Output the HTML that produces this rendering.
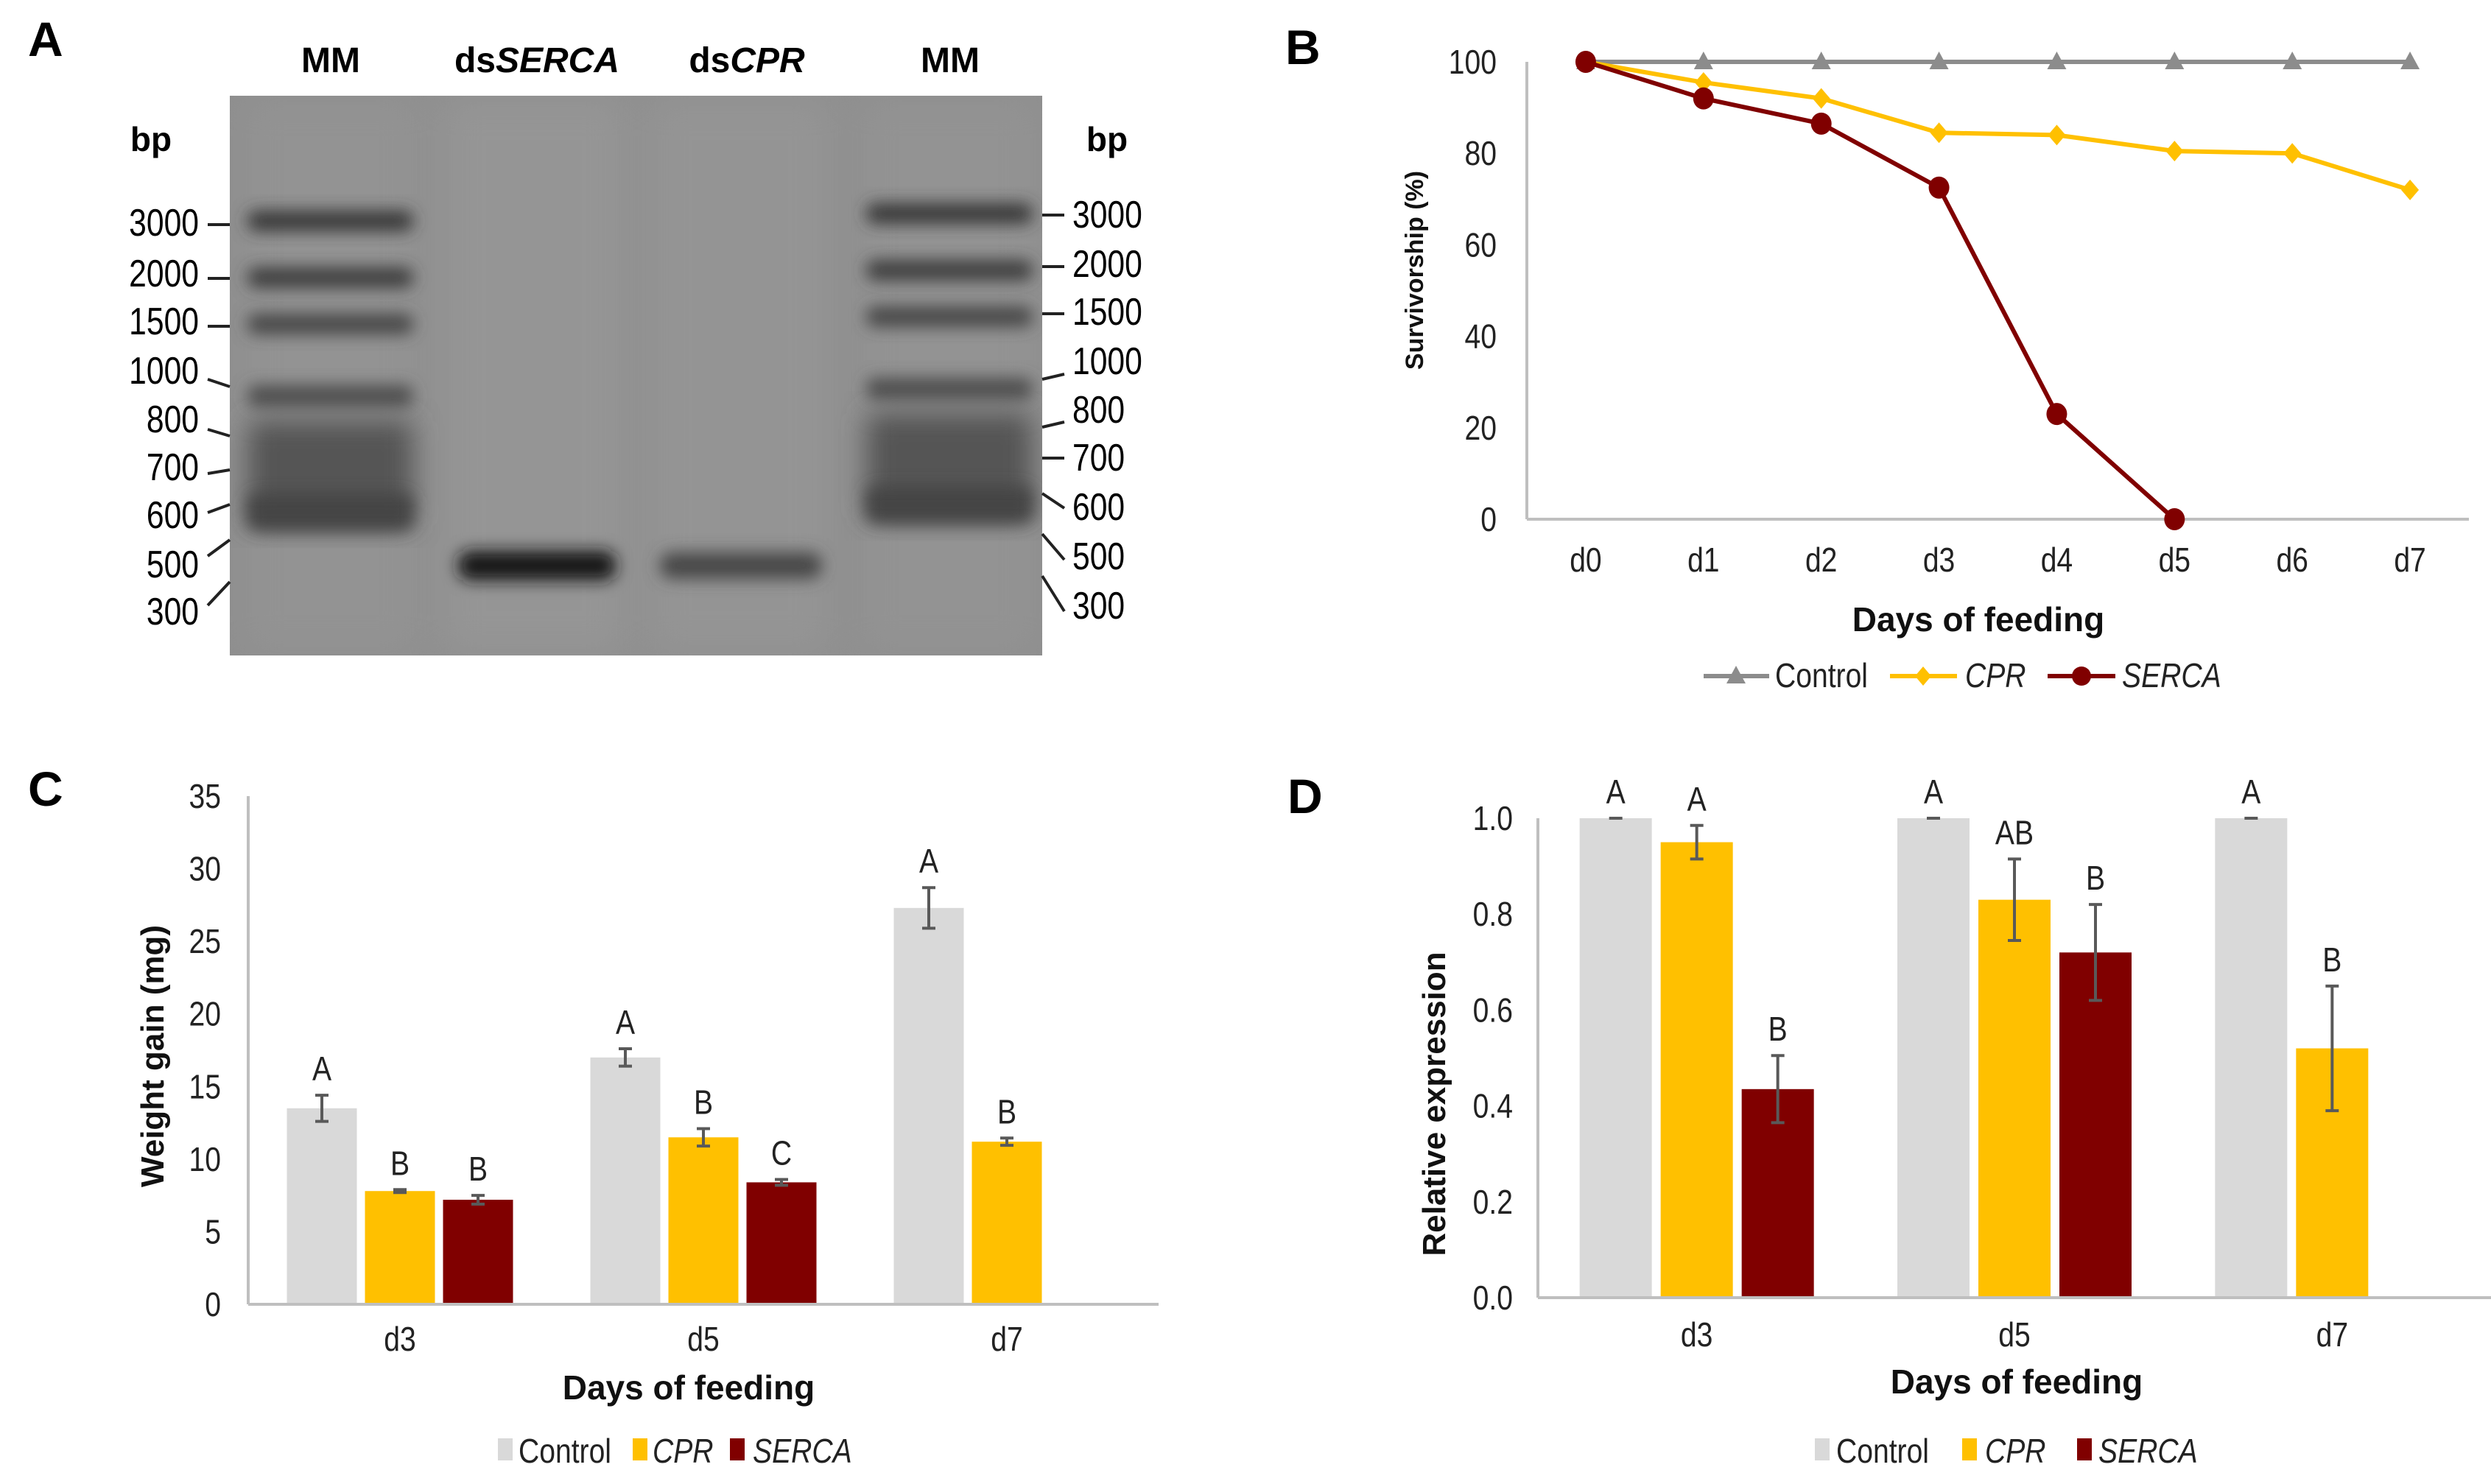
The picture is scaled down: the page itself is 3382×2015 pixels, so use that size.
<!DOCTYPE html>
<html><head><meta charset="utf-8"><style>
html,body{margin:0;padding:0;background:#fff}
svg{display:block}
text{font-family:"Liberation Sans",sans-serif}
</style></head><body>
<svg id="fig" width="3382" height="2015" viewBox="0 0 3382 2015" xmlns="http://www.w3.org/2000/svg">
<defs>
<filter id="blur" x="-20%" y="-80%" width="140%" height="260%"><feGaussianBlur stdDeviation="11"/></filter>
<filter id="blur2" x="-20%" y="-20%" width="140%" height="140%"><feGaussianBlur stdDeviation="18"/></filter>
<filter id="blur3" x="-20%" y="-5%" width="140%" height="110%"><feGaussianBlur stdDeviation="25"/></filter>
<clipPath id="gelclip"><rect x="312" y="130" width="1103" height="760"/></clipPath>
</defs>

<!-- PANEL A -->
<g>
<text x="38" y="76" font-size="66" font-weight="bold">A</text>
<g font-size="48" font-weight="bold" text-anchor="middle">
<text x="449" y="98">MM</text>
<text x="729" y="98">ds<tspan font-style="italic">SERCA</tspan></text>
<text x="1014" y="98">ds<tspan font-style="italic">CPR</tspan></text>
<text x="1290" y="98">MM</text>
</g>
<text x="205" y="205" font-size="46" font-weight="bold" text-anchor="middle">bp</text>
<text x="1503" y="205" font-size="46" font-weight="bold" text-anchor="middle">bp</text>
<g clip-path="url(#gelclip)">
<rect x="312" y="130" width="1103" height="760" fill="#8e8e8e"/>
<rect x="330" y="130" width="240" height="760" fill="#939393" filter="url(#blur3)"/>
<rect x="600" y="130" width="250" height="760" fill="#959595" filter="url(#blur3)"/>
<rect x="880" y="130" width="250" height="760" fill="#949494" filter="url(#blur3)"/>
<rect x="1165" y="130" width="245" height="760" fill="#939393" filter="url(#blur3)"/>
<!-- left ladder -->
<rect x="336" y="286" width="225" height="28" rx="12" fill="#383838" filter="url(#blur)"/>
<rect x="336" y="363" width="225" height="28" rx="12" fill="#3e3e3e" filter="url(#blur)"/>
<rect x="336" y="426" width="225" height="28" rx="12" fill="#474747" filter="url(#blur)"/>
<rect x="336" y="523" width="225" height="30" rx="12" fill="#4d4d4d" filter="url(#blur)"/>
<rect x="336" y="570" width="225" height="145" rx="12" fill="#545454" filter="url(#blur2)"/>
<rect x="336" y="670" width="225" height="50" rx="12" fill="#444" filter="url(#blur)"/>
<!-- right ladder -->
<rect x="1176" y="276" width="226" height="28" rx="12" fill="#383838" filter="url(#blur)"/>
<rect x="1176" y="353" width="226" height="28" rx="12" fill="#3e3e3e" filter="url(#blur)"/>
<rect x="1176" y="416" width="226" height="28" rx="12" fill="#474747" filter="url(#blur)"/>
<rect x="1176" y="513" width="226" height="30" rx="12" fill="#4d4d4d" filter="url(#blur)"/>
<rect x="1176" y="560" width="226" height="145" rx="12" fill="#545454" filter="url(#blur2)"/>
<rect x="1176" y="660" width="226" height="50" rx="12" fill="#444" filter="url(#blur)"/>
<!-- sample bands -->
<rect x="622" y="748" width="214" height="40" rx="16" fill="#181818" filter="url(#blur)"/>
<rect x="896" y="750" width="220" height="36" rx="16" fill="#474747" filter="url(#blur)"/>
</g>
<g font-size="52" text-anchor="end" transform="translate(270,0) scale(0.82,1)">
<text x="0" y="320">3000</text>
<text x="0" y="389">2000</text>
<text x="0" y="454">1500</text>
<text x="0" y="521">1000</text>
<text x="0" y="587">800</text>
<text x="0" y="652">700</text>
<text x="0" y="717">600</text>
<text x="0" y="784">500</text>
<text x="0" y="848">300</text>
</g>
<g stroke="#222" stroke-width="4">
<line x1="282" y1="305" x2="312" y2="305"/><line x1="282" y1="378" x2="312" y2="378"/><line x1="282" y1="443" x2="312" y2="443"/>
<line x1="282" y1="515" x2="312" y2="525"/><line x1="282" y1="583" x2="312" y2="592"/><line x1="282" y1="643" x2="312" y2="638"/>
<line x1="282" y1="696" x2="312" y2="685"/><line x1="282" y1="755" x2="312" y2="733"/><line x1="282" y1="822" x2="312" y2="790"/>
</g>
<g font-size="52" transform="translate(1456,0) scale(0.82,1)">
<text x="0" y="309">3000</text>
<text x="0" y="376">2000</text>
<text x="0" y="441">1500</text>
<text x="0" y="508">1000</text>
<text x="0" y="574">800</text>
<text x="0" y="639">700</text>
<text x="0" y="706">600</text>
<text x="0" y="773">500</text>
<text x="0" y="840">300</text>
</g>
<g stroke="#222" stroke-width="4">
<line x1="1415" y1="292" x2="1445" y2="292"/><line x1="1415" y1="362" x2="1445" y2="362"/><line x1="1415" y1="426" x2="1445" y2="426"/>
<line x1="1415" y1="515" x2="1445" y2="508"/><line x1="1415" y1="580" x2="1445" y2="573"/><line x1="1415" y1="622" x2="1445" y2="622"/>
<line x1="1415" y1="670" x2="1445" y2="690"/><line x1="1415" y1="725" x2="1445" y2="760"/><line x1="1415" y1="782" x2="1445" y2="830"/>
</g>
</g>

<g id="panelB">
<text x="1745" y="87" font-size="66" font-weight="bold">B</text>
</g>
<g id="panelC">
<text x="38" y="1094" font-size="66" font-weight="bold">C</text>
</g>
<g id="panelD">
<text x="1748" y="1104" font-size="66" font-weight="bold">D</text>
</g>
</svg>
<script>
// ---- Panel B data ----
const bDays = ['d0','d1','d2','d3','d4','d5','d6','d7'];
const bControl = [100,100,100,100,100,100,100,100];
const bCPR = [100,95.5,92,84.5,84,80.5,80,72];
const bSERCA = [100,92,86.5,72.5,23,0];
const bTicks = [0,20,40,60,80,100];
// ---- Panel C data ----
const cDays = ['d3','d5','d7'];
const cControl = [13.5,17.0,27.3];
const cControlErr = [0.9,0.6,1.4];
const cCPR = [7.8,11.5,11.2];
const cCPRErr = [0.1,0.6,0.25];
const cSERCA = [7.2,8.4];
const cSERCAErr = [0.3,0.2];
const cControlLetters = ['A','A','A'];
const cCPRLetters = ['B','B','B'];
const cSERCALetters = ['B','C'];
const cTicks = [0,5,10,15,20,25,30,35];
// ---- Panel D data ----
const dDays = ['d3','d5','d7'];
const dControl = [1,1,1];
const dControlErr = [0,0,0];
const dCPR = [0.95,0.83,0.52];
const dCPRErr = [0.035,0.085,0.13];
const dSERCA = [0.435,0.72];
const dSERCAErr = [0.07,0.1];
const dControlLetters = ['A','A','A'];
const dCPRLetters = ['A','AB','B'];
const dSERCALetters = ['B','B'];
const dTicks = ['0.0','0.2','0.4','0.6','0.8','1.0'];

const NS='http://www.w3.org/2000/svg';
function mk(parent,tag,attrs,txt){const e=document.createElementNS(NS,tag);for(const k in attrs)e.setAttribute(k,attrs[k]);if(txt!==undefined)e.textContent=txt;parent.appendChild(e);return e;}
const GRAY='#8c8c8c', GOLD='#ffc000', RED='#800000', LGRAY='#d9d9d9', AXIS='#bfbfbf';
const TF=46, SX=0.85;
function tlabel(g,x,y,txt,anchor,extra){
 const e=mk(g,'text',Object.assign({x:0,y:0,'font-size':TF,'text-anchor':anchor,fill:'#222',transform:`translate(${x},${y}) scale(${SX},1)`},extra||{}),txt);
 return e;
}

// ===== Panel B =====
(function(){
const g=document.getElementById('panelB');
const x0=2073,x1=3352,yTop=84,yBot=705;
const step=(x1-x0)/8;
const X=i=>x0+step*(i+0.5);
const Y=v=>yBot-(v/100)*(yBot-yTop);
let e;
e=mk(g,'line',{x1:x0,y1:yTop,x2:x0,y2:yBot,stroke:AXIS,'stroke-width':4});

e=mk(g,'line',{x1:x0,y1:yBot,x2:x1,y2:yBot,stroke:AXIS,'stroke-width':4});

bTicks.forEach(t=>{e=tlabel(g,2032,Y(t)+16,String(t),'end');
});
bDays.forEach((d,i)=>{e=tlabel(g,X(i),776,d,'middle');
});
e=mk(g,'text',{x:2686,y:857,'font-size':46,'font-weight':'bold','text-anchor':'middle',fill:'#111'},'Days of feeding');

e=mk(g,'text',{x:0,y:0,'font-size':34,'font-weight':'bold','text-anchor':'middle',fill:'#111',transform:'translate(1932,367) rotate(-90)'},'Survivorship (%)');

function line(vals,col,name){const pts=vals.map((v,i)=>X(i)+','+Y(v)).join(' ');
 const l=mk(g,'polyline',{points:pts,fill:'none',stroke:col,'stroke-width':6});
 }
line(bControl,'#8c8c8c','b-control');line(bCPR,GOLD,'b-cpr');line(bSERCA,RED,'b-serca');
bControl.forEach((v,i)=>{const cx=X(i),cy=Y(v);e=mk(g,'polygon',{points:`${cx},${cy-14} ${cx-13},${cy+10} ${cx+13},${cy+10}`,fill:GRAY});
});
bCPR.forEach((v,i)=>{const cx=X(i),cy=Y(v);e=mk(g,'polygon',{points:`${cx},${cy-14} ${cx+12},${cy} ${cx},${cy+14} ${cx-12},${cy}`,fill:GOLD});
});
bSERCA.forEach((v,i)=>{e=mk(g,'ellipse',{cx:X(i),cy:Y(v),rx:14,ry:15,fill:RED});
});
const ly=918;
e=mk(g,'line',{x1:2313,y1:ly,x2:2402,y2:ly,stroke:GRAY,'stroke-width':6});
e=mk(g,'polygon',{points:`2357,${ly-14} 2344,${ly+10} 2370,${ly+10}`,fill:GRAY});
e=tlabel(g,2410,ly+15,'Control','start');
e=mk(g,'line',{x1:2566,y1:ly,x2:2657,y2:ly,stroke:GOLD,'stroke-width':6});
e=mk(g,'polygon',{points:`2611,${ly-13} 2622,${ly} 2611,${ly+13} 2600,${ly}`,fill:GOLD});
e=tlabel(g,2668,ly+15,'CPR','start',{'font-style':'italic'});
e=mk(g,'line',{x1:2780,y1:ly,x2:2872,y2:ly,stroke:RED,'stroke-width':6});
e=mk(g,'circle',{cx:2826,cy:ly,r:13,fill:RED});
e=tlabel(g,2881,ly+15,'SERCA','start',{'font-style':'italic'});
})();

// ===== Bar chart helper =====
function barChart(o){
const g=document.getElementById(o.id);
const {x0,x1,yTop,yBot,vmax,barW,gap,p}=o;
const step=(x1-x0)/o.cats.length;
const Y=v=>yBot-(v/vmax)*(yBot-yTop);
let e;
e=mk(g,'line',{x1:x0,y1:yTop,x2:x0,y2:yBot,stroke:AXIS,'stroke-width':4});

o.ticks.forEach(t=>{e=tlabel(g,o.tickX,Y(parseFloat(t))+16,String(t),'end');
});
const series=o.series;
o.cats.forEach((c,i)=>{
 const cx=x0+step*(i+0.5);
 const total=series.length*barW+(series.length-1)*gap;
 series.forEach((s,k)=>{
  if(i>=s.vals.length)return;
  const v=s.vals[i];const bx=cx-total/2+k*(barW+gap);
  e=mk(g,'rect',{x:bx,y:Y(v),width:barW,height:yBot-Y(v),fill:s.col});
  
  const er=s.err[i];const mx=bx+barW/2;
  e=mk(g,'path',{d:`M${mx},${Y(v+er)}V${Y(v-er)}M${mx-9},${Y(v+er)}H${mx+9}M${mx-9},${Y(v-er)}H${mx+9}`,stroke:'#595959','stroke-width':4,fill:'none'});
  
  e=tlabel(g,mx,Y(v+er)-20,s.letters[i],'middle');
  
 });
 e=tlabel(g,cx,o.catY,c,'middle');
 
});
e=mk(g,'line',{x1:x0,y1:yBot,x2:x1,y2:yBot,stroke:AXIS,'stroke-width':4});

e=mk(g,'text',{x:o.titleX,y:o.titleY,'font-size':46,'font-weight':'bold','text-anchor':'middle',fill:'#111'},'Days of feeding');

e=mk(g,'text',{x:0,y:0,'font-size':44,'font-weight':'bold','text-anchor':'middle',fill:'#111',transform:`translate(${o.ytX},${o.ytY}) rotate(-90)`},o.ytitle);

const ly=o.legY;
o.leg.forEach((L,k)=>{
 e=mk(g,'rect',{x:L[0],y:ly-18,width:20,height:30,fill:series[k].col});
 
 e=tlabel(g,L[1],ly+15,series[k].label,'start',k?{'font-style':'italic'}:{});
 
});
}
barChart({id:'panelC',p:'c',x0:337,x1:1573,yTop:1081,yBot:1771,vmax:35,barW:95,gap:11,cats:cDays,ticks:cTicks,tickX:300,catY:1834,
 titleX:935,titleY:1900,ytX:222,ytY:1434,ytitle:'Weight gain (mg)',legY:1971,
 series:[{name:'control',label:'Control',col:LGRAY,vals:cControl,err:cControlErr,letters:cControlLetters},
  {name:'cpr',label:'CPR',col:GOLD,vals:cCPR,err:cCPRErr,letters:cCPRLetters},
  {name:'serca',label:'SERCA',col:RED,vals:cSERCA,err:cSERCAErr,letters:cSERCALetters}],
 leg:[[676,704],[859,886],[991,1022]]});
barChart({id:'panelD',p:'d',x0:2088,x1:3382,yTop:1111,yBot:1762,vmax:1,barW:98,gap:12,cats:dDays,ticks:dTicks,tickX:2054,catY:1828,
 titleX:2738,titleY:1892,ytX:1962,ytY:1499,ytitle:'Relative expression',legY:1971,
 series:[{name:'control',label:'Control',col:LGRAY,vals:dControl,err:dControlErr,letters:dControlLetters},
  {name:'cpr',label:'CPR',col:GOLD,vals:dCPR,err:dCPRErr,letters:dCPRLetters},
  {name:'serca',label:'SERCA',col:RED,vals:dSERCA,err:dSERCAErr,letters:dSERCALetters}],
 leg:[[2464,2493],[2664,2695],[2820,2849]]});
</script>
</body></html>
